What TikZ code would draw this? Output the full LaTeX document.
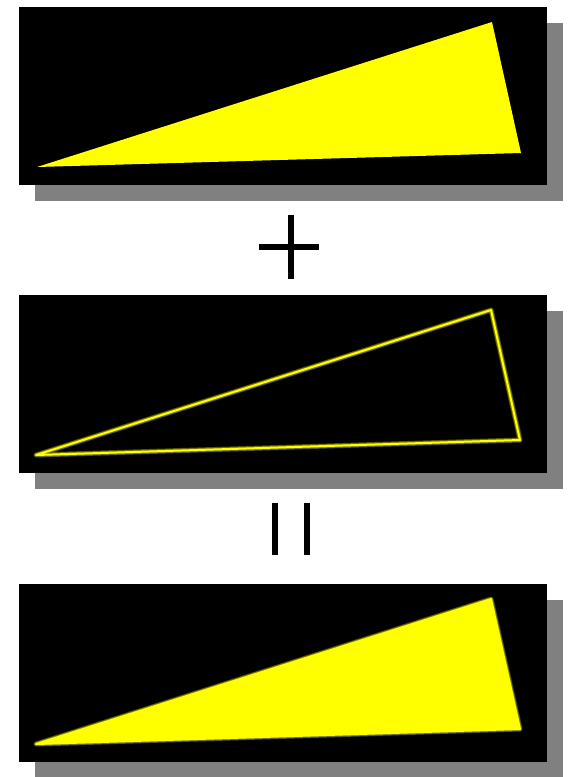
\documentclass[tikz,border=0pt]{standalone}
\definecolor{yel}{RGB}{255,255,0}
\definecolor{shade}{RGB}{128,128,128}
\begin{document}
\begin{tikzpicture}[x=1pt,y=-1pt,
  shadowbox/.style={fill=shade},
  panelbox/.style={fill=black},
  halo/.style={draw=yel,line width=#1,line join=round,opacity=0.3},
  coreline/.style={draw=yel,line width=2pt,line join=round},
  opbar/.style={fill=black}]
\useasboundingbox (0,0) rectangle (568,777);
\fill[white] (0,0) rectangle (568,777);
% panel 1
\fill[shadowbox] (35,23) rectangle (563,201);
\fill[panelbox] (19,7) rectangle (547,185);
\fill[yel] (37,167) -- (492,22) -- (521,153) -- cycle;
% plus
\fill[opbar] (288,215) rectangle (294,279);
\fill[opbar] (259,244) rectangle (319,250);
% panel 2
\fill[shadowbox] (35,311) rectangle (563,489);
\fill[panelbox] (19,295) rectangle (547,473);
\draw[halo=5pt] (36,455) -- (491,310) -- (520,440) -- cycle;
\draw[halo=3.5pt] (36,455) -- (491,310) -- (520,440) -- cycle;
\draw[coreline] (36,455) -- (491,310) -- (520,440) -- cycle;
% equals (rotated)
\fill[opbar] (272,503) rectangle (278,555);
\fill[opbar] (304,503) rectangle (310,555);
% panel 3
\fill[shadowbox] (35,600) rectangle (563,778);
\fill[panelbox] (19,584) rectangle (547,762);
\draw[halo=5pt] (36,744) -- (491,599) -- (520,729) -- cycle;
\draw[halo=3.5pt] (36,744) -- (491,599) -- (520,729) -- cycle;
\filldraw[yel,line width=2pt,line join=round] (36,744) -- (491,599) -- (520,729) -- cycle;
\end{tikzpicture}
\end{document}
